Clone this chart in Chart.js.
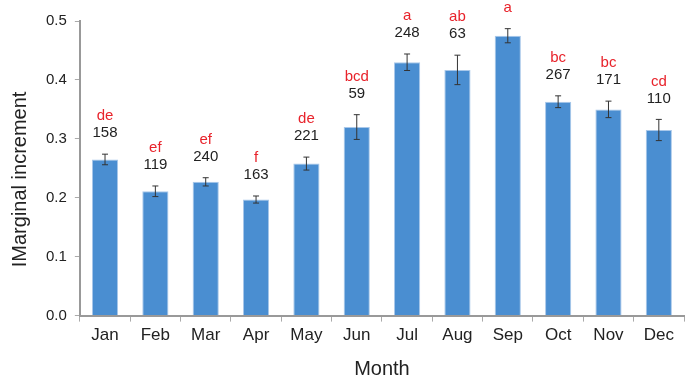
<!DOCTYPE html>
<html>
<head>
<meta charset="utf-8">
<script src="https://cdn.jsdelivr.net/npm/chart.js@4/dist/chart.umd.min.js"></script>
<style>
  body { margin: 0; background: #fff; }
  #wrap { width: 685px; height: 379px; }
</style>
</head>
<body>
<div id="wrap"><canvas id="chart"></canvas></div>
<script>
// data
var months = ['Jan', 'Feb', 'Mar', 'Apr', 'May', 'Jun', 'Jul', 'Aug', 'Sep', 'Oct', 'Nov', 'Dec'];
var increment = [0.265, 0.211, 0.227, 0.197, 0.258, 0.320, 0.430, 0.417, 0.475, 0.363, 0.350, 0.315];
var errors = [0.009, 0.009, 0.007, 0.006, 0.011, 0.021, 0.014, 0.025, 0.012, 0.010, 0.014, 0.018];
var sampleSizes = ['158', '119', '240', '163', '221', '59', '248', '63', '', '267', '171', '110'];
var letters = ['de', 'ef', 'ef', 'f', 'de', 'bcd', 'a', 'ab', 'a', 'bc', 'bc', 'cd'];

var fontFamily = '"Liberation Sans", Arial, sans-serif';

// error bars + annotations above each bar
var annotate = {
    id: 'annotate',
    afterDatasetsDraw: function (chart) {
        var ctx = chart.ctx;
        var yScale = chart.scales.y;
        var meta = chart.getDatasetMeta(0);
        ctx.save();
        meta.data.forEach(function (bar, i) {
            var x = bar.x;
            var top = yScale.getPixelForValue(increment[i] + errors[i]);
            var bottom = yScale.getPixelForValue(increment[i] - errors[i]);
            ctx.strokeStyle = '#333';
            ctx.lineWidth = 1;
            ctx.beginPath();
            ctx.moveTo(x, top); ctx.lineTo(x, bottom);
            ctx.moveTo(x - 3, top); ctx.lineTo(x + 3, top);
            ctx.moveTo(x - 3, bottom); ctx.lineTo(x + 3, bottom);
            ctx.stroke();

            ctx.textAlign = 'center';
            ctx.textBaseline = 'middle';
            ctx.font = '15px ' + fontFamily;
            ctx.fillStyle = '#222';
            if (sampleSizes[i]) ctx.fillText(sampleSizes[i], x, top - 21);
            ctx.fillStyle = '#e8232b';
            var ly = sampleSizes[i] ? top - 38 : top - 21;
            ctx.fillText(letters[i], x, ly);
        });
        ctx.restore();
    }
};

var context = document.getElementById('chart');
var config = {
    type: 'bar',
    data: {
        labels: months,
        datasets: [{
            data: increment,
            backgroundColor: '#4a8ed1',
            borderColor: '#a9c8ea',
            borderWidth: 1,
            barPercentage: 0.52,
            categoryPercentage: 1
        }]
    },
    options: {
        responsive: true,
        maintainAspectRatio: false,
        animation: false,
        layout: { padding: { top: 21, right: 1, left: 0, bottom: 0 } },
        plugins: {
            legend: { display: false },
            tooltip: { enabled: false }
        },
        scales: {
            x: {
                grid: { offset: true, drawOnChartArea: false, tickLength: 6, color: '#aaa' },
                border: { color: '#999', width: 2 },
                ticks: { color: '#222', font: { size: 17, family: fontFamily }, padding: 4 },
                title: { display: true, text: 'Month', color: '#222', font: { size: 20, family: fontFamily }, padding: { top: 7, bottom: -2 } }
            },
            y: {
                min: 0,
                max: 0.5,
                ticks: {
                    stepSize: 0.1,
                    color: '#222',
                    font: { size: 15, family: fontFamily },
                    padding: 8,
                    callback: function (v) { return v.toFixed(1); }
                },
                grid: { drawOnChartArea: false, tickLength: 5, color: '#aaa' },
                border: { color: '#999', width: 2 },
                title: { display: true, text: 'IMarginal increment    ', color: '#222', font: { size: 20, family: fontFamily }, padding: { top: 8, bottom: 6 } }
            }
        }
    },
    plugins: [annotate]
};
new Chart(context, config);
</script>
</body>
</html>
